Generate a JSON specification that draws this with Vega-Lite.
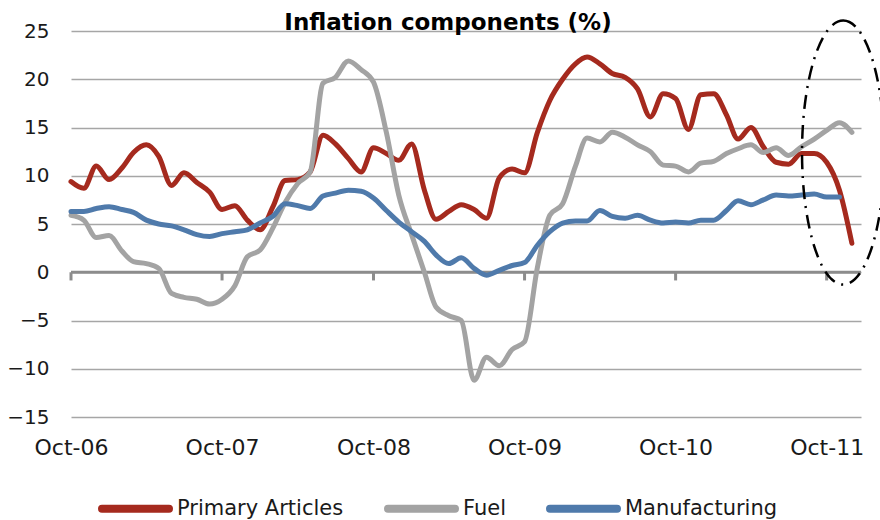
{
  "$schema": "https://vega.github.io/schema/vega-lite/v6.json",
  "width": 790,
  "height": 386,
  "autosize": {"type": "none"},
  "padding": {"left": 71, "top": 31, "right": 19, "bottom": 103},
  "background": "white",
  "config": {"view": {"stroke": null}, "font": "DejaVu Sans"},
  "title": {"text": "Inflation components (%)", "fontSize": 23, "fontWeight": "bold", "font": "DejaVu Sans", "color": "#000000", "anchor": "middle", "dx": -18, "offset": -19},
  "datasets": {
    "infl": [
      {"date": "2006-10-01", "Primary Articles": 9.4, "Fuel": 5.9, "Manufacturing": 6.3},
      {"date": "2006-11-01", "Primary Articles": 8.7, "Fuel": 5.4, "Manufacturing": 6.3},
      {"date": "2006-12-01", "Primary Articles": 11.0, "Fuel": 3.6, "Manufacturing": 6.6},
      {"date": "2007-01-01", "Primary Articles": 9.6, "Fuel": 3.8, "Manufacturing": 6.8},
      {"date": "2007-02-01", "Primary Articles": 10.8, "Fuel": 2.2, "Manufacturing": 6.5},
      {"date": "2007-03-01", "Primary Articles": 12.4, "Fuel": 1.1, "Manufacturing": 6.2},
      {"date": "2007-04-01", "Primary Articles": 13.2, "Fuel": 0.9, "Manufacturing": 5.4},
      {"date": "2007-05-01", "Primary Articles": 12.0, "Fuel": 0.4, "Manufacturing": 5.0},
      {"date": "2007-06-01", "Primary Articles": 9.0, "Fuel": -2.2, "Manufacturing": 4.8},
      {"date": "2007-07-01", "Primary Articles": 10.3, "Fuel": -2.6, "Manufacturing": 4.4},
      {"date": "2007-08-01", "Primary Articles": 9.3, "Fuel": -2.8, "Manufacturing": 3.9},
      {"date": "2007-09-01", "Primary Articles": 8.3, "Fuel": -3.3, "Manufacturing": 3.7},
      {"date": "2007-10-01", "Primary Articles": 6.5, "Fuel": -2.8, "Manufacturing": 4.0},
      {"date": "2007-11-01", "Primary Articles": 6.9, "Fuel": -1.4, "Manufacturing": 4.2},
      {"date": "2007-12-01", "Primary Articles": 5.4, "Fuel": 1.6, "Manufacturing": 4.4},
      {"date": "2008-01-01", "Primary Articles": 4.4, "Fuel": 2.3, "Manufacturing": 5.1},
      {"date": "2008-02-01", "Primary Articles": 6.8, "Fuel": 4.6, "Manufacturing": 5.8},
      {"date": "2008-03-01", "Primary Articles": 9.5, "Fuel": 7.2, "Manufacturing": 7.1},
      {"date": "2008-04-01", "Primary Articles": 9.6, "Fuel": 9.2, "Manufacturing": 6.9},
      {"date": "2008-05-01", "Primary Articles": 10.4, "Fuel": 10.4, "Manufacturing": 6.6},
      {"date": "2008-06-01", "Primary Articles": 14.2, "Fuel": 19.6, "Manufacturing": 7.9},
      {"date": "2008-07-01", "Primary Articles": 13.3, "Fuel": 20.2, "Manufacturing": 8.2},
      {"date": "2008-08-01", "Primary Articles": 11.8, "Fuel": 21.9, "Manufacturing": 8.5},
      {"date": "2008-09-01", "Primary Articles": 10.4, "Fuel": 21.0, "Manufacturing": 8.4},
      {"date": "2008-10-01", "Primary Articles": 12.9, "Fuel": 19.7, "Manufacturing": 7.7},
      {"date": "2008-11-01", "Primary Articles": 12.3, "Fuel": 14.5, "Manufacturing": 6.4},
      {"date": "2008-12-01", "Primary Articles": 11.6, "Fuel": 8.0, "Manufacturing": 5.2},
      {"date": "2009-01-01", "Primary Articles": 13.3, "Fuel": 3.9, "Manufacturing": 4.2},
      {"date": "2009-02-01", "Primary Articles": 8.5, "Fuel": 0.0, "Manufacturing": 3.2},
      {"date": "2009-03-01", "Primary Articles": 5.5, "Fuel": -3.6, "Manufacturing": 1.8},
      {"date": "2009-04-01", "Primary Articles": 6.3, "Fuel": -4.5, "Manufacturing": 0.9},
      {"date": "2009-05-01", "Primary Articles": 7.0, "Fuel": -5.0, "Manufacturing": 1.5},
      {"date": "2009-06-01", "Primary Articles": 6.5, "Fuel": -11.2, "Manufacturing": 0.4},
      {"date": "2009-07-01", "Primary Articles": 5.6, "Fuel": -8.8, "Manufacturing": -0.3},
      {"date": "2009-08-01", "Primary Articles": 9.8, "Fuel": -9.7, "Manufacturing": 0.2},
      {"date": "2009-09-01", "Primary Articles": 10.7, "Fuel": -8.0, "Manufacturing": 0.7},
      {"date": "2009-10-01", "Primary Articles": 10.3, "Fuel": -7.2, "Manufacturing": 1.0},
      {"date": "2009-11-01", "Primary Articles": 14.5, "Fuel": 0.5, "Manufacturing": 2.8},
      {"date": "2009-12-01", "Primary Articles": 17.8, "Fuel": 5.9, "Manufacturing": 4.2},
      {"date": "2010-01-01", "Primary Articles": 20.0, "Fuel": 7.1, "Manufacturing": 5.1},
      {"date": "2010-02-01", "Primary Articles": 21.6, "Fuel": 11.0, "Manufacturing": 5.3},
      {"date": "2010-03-01", "Primary Articles": 22.3, "Fuel": 13.9, "Manufacturing": 5.3},
      {"date": "2010-04-01", "Primary Articles": 21.6, "Fuel": 13.5, "Manufacturing": 6.4},
      {"date": "2010-05-01", "Primary Articles": 20.6, "Fuel": 14.5, "Manufacturing": 5.8},
      {"date": "2010-06-01", "Primary Articles": 20.2, "Fuel": 14.0, "Manufacturing": 5.6},
      {"date": "2010-07-01", "Primary Articles": 19.0, "Fuel": 13.2, "Manufacturing": 5.9},
      {"date": "2010-08-01", "Primary Articles": 16.1, "Fuel": 12.5, "Manufacturing": 5.4},
      {"date": "2010-09-01", "Primary Articles": 18.5, "Fuel": 11.1, "Manufacturing": 5.1},
      {"date": "2010-10-01", "Primary Articles": 18.0, "Fuel": 11.0, "Manufacturing": 5.2},
      {"date": "2010-11-01", "Primary Articles": 14.8, "Fuel": 10.4, "Manufacturing": 5.1},
      {"date": "2010-12-01", "Primary Articles": 18.4, "Fuel": 11.3, "Manufacturing": 5.4},
      {"date": "2011-01-01", "Primary Articles": 18.5, "Fuel": 11.5, "Manufacturing": 5.4},
      {"date": "2011-02-01", "Primary Articles": 16.3, "Fuel": 12.3, "Manufacturing": 6.4},
      {"date": "2011-03-01", "Primary Articles": 13.8, "Fuel": 12.8, "Manufacturing": 7.4},
      {"date": "2011-04-01", "Primary Articles": 15.0, "Fuel": 13.2, "Manufacturing": 7.0},
      {"date": "2011-05-01", "Primary Articles": 13.0, "Fuel": 12.4, "Manufacturing": 7.5},
      {"date": "2011-06-01", "Primary Articles": 11.4, "Fuel": 12.9, "Manufacturing": 8.0},
      {"date": "2011-07-01", "Primary Articles": 11.2, "Fuel": 12.1, "Manufacturing": 7.9},
      {"date": "2011-08-01", "Primary Articles": 12.3, "Fuel": 13.0, "Manufacturing": 8.0},
      {"date": "2011-09-01", "Primary Articles": 12.3, "Fuel": 13.8, "Manufacturing": 8.1},
      {"date": "2011-10-01", "Primary Articles": 11.4, "Fuel": 14.7, "Manufacturing": 7.8},
      {"date": "2011-11-01", "Primary Articles": 8.5, "Fuel": 15.5, "Manufacturing": 7.8},
      {"date": "2011-12-01", "Primary Articles": 3.0, "Fuel": 14.5, "Manufacturing": null}
    ]
  },
  "layer": [
    {
      "data": {"values": [{}]},
      "mark": {"type": "rule", "color": "#8c8c8c", "strokeWidth": 3},
      "encoding": {"y": {"datum": 0, "type": "quantitative"}}
    },
    {
      "data": {"name": "infl"},
      "transform": [{"filter": "utcmonth(toDate(datum.date)) == 9"}],
      "mark": {"type": "rule", "color": "#8c8c8c", "strokeWidth": 3},
      "encoding": {
        "x": {"field": "date", "type": "temporal"},
        "y": {"datum": 0, "type": "quantitative"},
        "y2": {"datum": -0.85}
      }
    },
    {
      "data": {"name": "infl"},
      "transform": [
        {"fold": ["Primary Articles", "Fuel", "Manufacturing"], "as": ["key", "value"]},
        {"filter": "datum.value != null"}
      ],
      "mark": {"type": "line", "interpolate": "monotone", "strokeWidth": 5, "strokeCap": "round", "strokeJoin": "round"},
      "encoding": {
        "x": {
          "field": "date", "type": "temporal",
          "scale": {"type": "utc", "nice": false, "domain": [{"year": 2006, "month": 10, "date": 1, "utc": true}, {"year": 2011, "month": 12, "date": 23, "utc": true}]},
          "axis": {
            "title": null, "domain": false, "ticks": false, "grid": false,
            "format": "%b-%y", "labelFontSize": 22, "labelFont": "DejaVu Sans", "labelColor": "#1a1a1a", "labelPadding": 20,
            "labelOverlap": false, "labelFlush": false,
            "values": [
              {"year": 2006, "month": 10, "date": 1, "utc": true},
              {"year": 2007, "month": 10, "date": 1, "utc": true},
              {"year": 2008, "month": 10, "date": 1, "utc": true},
              {"year": 2009, "month": 10, "date": 1, "utc": true},
              {"year": 2010, "month": 10, "date": 1, "utc": true},
              {"year": 2011, "month": 10, "date": 1, "utc": true}
            ]
          }
        },
        "y": {
          "field": "value", "type": "quantitative",
          "scale": {"domain": [-15, 25], "nice": false, "zero": false},
          "axis": {
            "title": null, "domain": false, "ticks": false, "grid": true, "gridColor": "#a6a6a6", "gridWidth": 1.4,
            "values": [-15, -10, -5, 0, 5, 10, 15, 20, 25],
            "labelFontSize": 20, "labelFont": "DejaVu Sans", "labelColor": "#1a1a1a", "labelPadding": 22
          }
        },
        "color": {
          "field": "key", "type": "nominal",
          "scale": {"domain": ["Primary Articles", "Fuel", "Manufacturing"], "range": ["#a52a1e", "#a3a3a3", "#4f7aab"]},
          "legend": {
            "title": null, "orient": "none", "legendX": 27, "legendY": 440, "direction": "horizontal",
            "symbolType": "stroke", "symbolSize": 4489, "symbolStrokeWidth": 8,
            "labelFontSize": 21, "labelFont": "DejaVu Sans", "labelColor": "#1a1a1a", "labelLimit": 300,
            "labelOffset": 4, "columnPadding": 28, "padding": 0,
            "encode": {"symbols": {"update": {"strokeCap": {"value": "round"}}}}
          }
        }
      }
    },
    {
      "data": {"values": [{}]},
      "mark": {
        "type": "point",
        "shape": "M0,-1C0.172,-1 0.312,-0.552 0.312,0C0.312,0.552 0.172,1 0,1C-0.172,1 -0.312,0.552 -0.312,0C-0.312,-0.552 -0.172,-1 0,-1Z",
        "size": 69696, "filled": false, "stroke": "#000000", "strokeWidth": 2.5, "strokeDash": [14, 7, 2, 7], "opacity": 1
      },
      "encoding": {
        "x": {"datum": {"year": 2011, "month": 11, "date": 10, "utc": true}, "type": "temporal"},
        "y": {"datum": 12.4, "type": "quantitative"}
      }
    }
  ]
}
